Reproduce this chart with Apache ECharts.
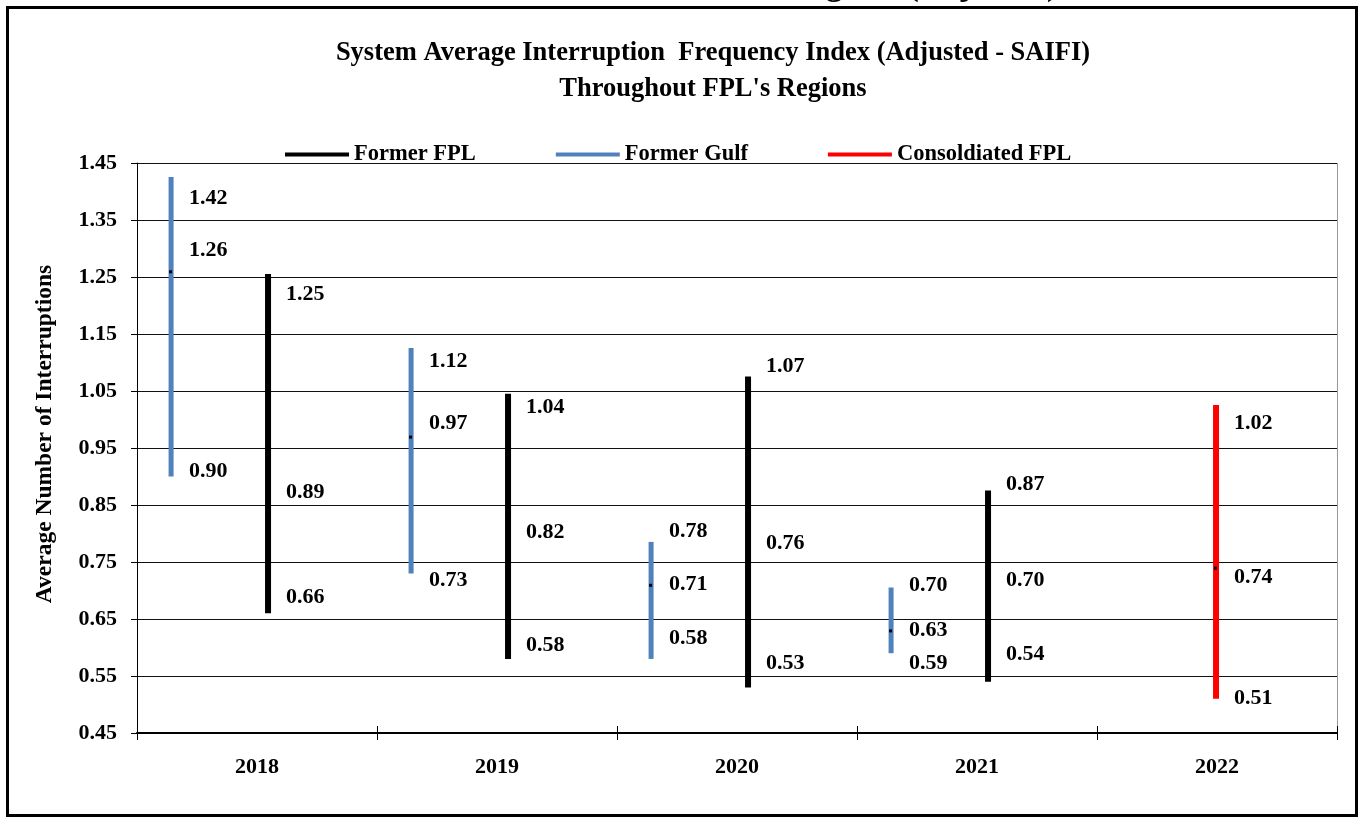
<!DOCTYPE html>
<html>
<head>
<meta charset="utf-8">
<script src="https://cdn.jsdelivr.net/npm/echarts@6/dist/echarts.min.js"></script>
<style>
  html, body { margin: 0; padding: 0; background: #ffffff; }
  #chart { width: 1359px; height: 818px; }
</style>
</head>
<body>
<div id="chart"></div>
<script>
// ---- data ----
const years = ['2018', '2019', '2020', '2021', '2022'];
const yTicks = ['0.45', '0.55', '0.65', '0.75', '0.85', '0.95', '1.05', '1.15', '1.25', '1.35', '1.45'];

const gulfYears = ['2018', '2019', '2020', '2021'];
const gulfHigh = [1.42, 1.12, 0.78, 0.70];
const gulfAvg  = [1.26, 0.97, 0.71, 0.63];
const gulfLow  = [0.90, 0.73, 0.58, 0.59];

const fplYears = ['2018', '2019', '2020', '2021'];
const fplHigh = [1.25, 1.04, 1.07, 0.87];
const fplAvg  = [0.89, 0.82, 0.76, 0.70];
const fplLow  = [0.66, 0.58, 0.53, 0.54];

const consYears = ['2022'];
const consHigh = [1.02];
const consAvg  = [0.74];
const consLow  = [0.51];

// ---- layout / style config (label nudges in px: [high, avg, low]) ----
const gulfLabelDy = [[18, -21, -5], [10, -13, 7], [-14, 0, -21], [-5, 0, 10]];
const fplLabelDy  = [[17, 10, -16], [11, 10, -14], [-13, -13, -24], [-9, -10, -27]];
const consLabelDy = [[15, 10, 0]];

const FONT = '"Times New Roman", "Liberation Serif", serif';

function build(yrs, hi, av, lo) {
  return yrs.map((y, i) => [years.indexOf(y), hi[i], av[i], lo[i]]);
}

function makeRender(color, width, bandShift, labelDy) {
  return function (params, api) {
    const c = api.value(0);
    const hi = api.value(1), av = api.value(2), lo = api.value(3);
    const band = api.size([1, 0])[0];
    const pHi = api.coord([c, hi]);
    const pAv = api.coord([c, av]);
    const pLo = api.coord([c, lo]);
    const cx = pHi[0] + bandShift * band;
    const dy = labelDy[params.dataIndex];
    const lbl = (v, y) => ({
      type: 'text',
      x: cx + 18,
      y: y,
      style: {
        text: v.toFixed(2),
        fill: '#000',
        font: 'bold 22px ' + FONT,
        align: 'left',
        verticalAlign: 'middle',
        textAlign: 'left',
        textVerticalAlign: 'middle'
      }
    });
    return {
      type: 'group',
      children: [
        { type: 'line', shape: { x1: cx, y1: pHi[1] - 3, x2: cx, y2: pLo[1] }, style: { stroke: color, lineWidth: width } },
        { type: 'rect', shape: { x: cx - 2, y: pAv[1] - 1, width: 3, height: 3 }, style: { fill: '#000' } },
        lbl(hi, pHi[1] + dy[0]),
        lbl(av, pAv[1] + dy[1]),
        lbl(lo, pLo[1] + dy[2])
      ]
    };
  };
}

const chart = echarts.init(document.getElementById('chart'), null, { renderer: 'canvas' });

const option = {
  backgroundColor: '#ffffff',
  animation: false,
  title: {
    text: 'System Average Interruption  Frequency Index (Adjusted - SAIFI)\nThroughout FPL\'s Regions',
    left: 708,
    top: 30,
    textAlign: 'center',
    textStyle: { fontFamily: FONT, fontWeight: 'bold', fontSize: 26.5, lineHeight: 36, color: '#000' }
  },
  legend: {
    left: 280,
    top: 138,
    itemWidth: 64,
    itemHeight: 4,
    itemGap: 80,
    icon: 'rect',
    textStyle: { fontFamily: FONT, fontWeight: 'bold', fontSize: 22.5, color: '#000' },
    data: ['Former FPL', 'Former Gulf', 'Consoldiated FPL']
  },
  grid: { left: 137, right: 22, top: 163, bottom: 85 },
  xAxis: [
    {
      type: 'category',
      data: years,
      axisLine: { lineStyle: { color: '#000', width: 2 } },
      axisTick: { show: true, length: 7, lineStyle: { color: '#000' } },
      axisLabel: { margin: 23, fontFamily: FONT, fontWeight: 'bold', fontSize: 22, color: '#000' }
    },
    {
      type: 'category',
      data: years,
      position: 'bottom',
      axisLine: { show: false },
      axisTick: { show: true, inside: true, length: 7, lineStyle: { color: '#000' } },
      axisLabel: { show: false }
    }
  ],
  yAxis: {
    type: 'value',
    min: 0.45,
    max: 1.45,
    interval: 0.1,
    axisLine: { show: true, lineStyle: { color: '#000', width: 1 } },
    axisTick: { show: true, length: 6, lineStyle: { color: '#000' } },
    axisLabel: {
      margin: 20,
      fontFamily: FONT, fontWeight: 'bold', fontSize: 22, color: '#000',
      formatter: v => {
        const s = v.toFixed(2);
        return yTicks.indexOf(s) >= 0 ? s : '';
      }
    },
    splitLine: { show: true, lineStyle: { color: '#111', width: 1 } }
  },
  series: [
    {
      name: 'Former FPL', type: 'custom', clip: false,
      itemStyle: { color: '#000000' },
      encode: { x: 0, y: [1, 2, 3] },
      data: build(fplYears, fplHigh, fplAvg, fplLow),
      renderItem: makeRender('#000000', 6, 0.046, fplLabelDy),
      z: 3
    },
    {
      name: 'Former Gulf', type: 'custom', clip: false,
      itemStyle: { color: '#4F81BD' },
      encode: { x: 0, y: [1, 2, 3] },
      data: build(gulfYears, gulfHigh, gulfAvg, gulfLow),
      renderItem: makeRender('#4F81BD', 5, -0.358, gulfLabelDy),
      z: 3
    },
    {
      name: 'Consoldiated FPL', type: 'custom', clip: false,
      itemStyle: { color: '#FF0000' },
      encode: { x: 0, y: [1, 2, 3] },
      data: build(consYears, consHigh, consAvg, consLow),
      renderItem: makeRender('#FF0000', 6, -0.004, consLabelDy),
      z: 3
    }
  ],
  graphic: [
    { type: 'rect', left: 5, top: 5, shape: { x: 0, y: 0, width: 1349, height: 808 }, style: { fill: 'none', stroke: '#000', lineWidth: 3 }, silent: true },
    { type: 'line', shape: { x1: 1337.5, y1: 163, x2: 1337.5, y2: 733 }, style: { stroke: '#999', lineWidth: 1 }, silent: true },
    { type: 'text', x: 1058, y: -14, style: { text: 'Regions (Adjusted)', fill: '#000', font: 'bold 33px ' + FONT, textAlign: 'right', textVerticalAlign: 'middle', align: 'right', verticalAlign: 'middle' }, silent: true },
    { type: 'text', x: 45, y: 434, rotation: Math.PI / 2, style: { text: 'Average Number of Interruptions', fill: '#000', font: 'bold 23.5px ' + FONT, textAlign: 'center', textVerticalAlign: 'middle', align: 'center', verticalAlign: 'middle' }, silent: true }
  ]
};

chart.setOption(option);
</script>
</body>
</html>
